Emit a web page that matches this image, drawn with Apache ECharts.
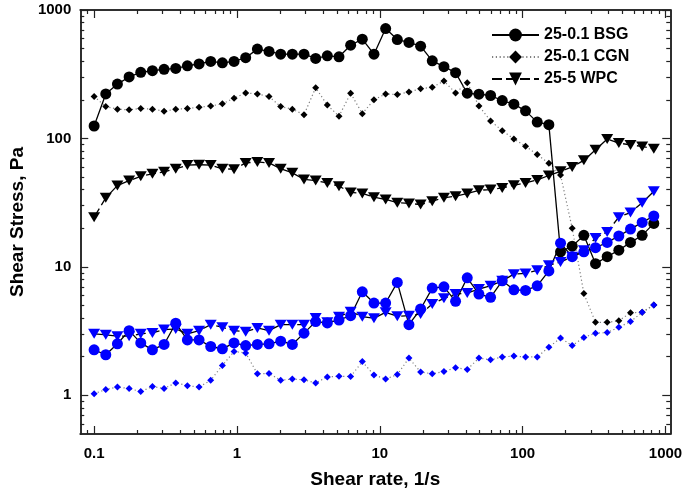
<!DOCTYPE html>
<html>
<head>
<meta charset="utf-8">
<script src="https://cdn.jsdelivr.net/npm/echarts@6/dist/echarts.min.js"></script>
<style>
html,body{margin:0;padding:0;background:#fff;}
#chart{width:685px;height:497px;}
</style>
</head>
<body>
<div id="chart"></div>
<script>
// Shear rate (1/s)
const shearRate = [0.1,0.1207,0.1456,0.1758,0.2121,0.2560,0.3089,0.3728,0.4498,0.5429,0.6551,0.7906,0.9541,1.151,1.390,1.677,2.024,2.442,2.947,3.557,4.292,5.180,6.251,7.543,9.103,10.99,13.26,16.00,19.31,23.30,28.12,33.93,40.95,49.42,59.64,71.97,86.85,104.8,126.5,152.6,184.2,222.3,268.3,323.8,390.7,471.5,569.0,686.7,828.6];

// Black series
const bsgBlack = [125,222,265,301,327,337,345,351,368,380,398,388,398,425,496,476,453,453,453,420,440,432,532,593,453,717,589,559,523,402,362,325,225,221,216,197,185,164,134,128,13.1,14.5,17.6,10.6,12.0,13.5,15.5,17.6,21.8];
const cgnBlack = [212,177,169,167,171,169,163,169,171,175,179,186,206,226,222,212,177,169,153,248,182,149,225,156,200,222,220,230,244,250,280,226,272,179,137,115,99,87,75,64,52,20,6.2,3.7,3.7,3.8,4.4,4.43,5.05];
const wpcBlack = [24.4,34.5,43,47,50.7,53,55,58,62,62.5,62,58,57.6,64.5,65.6,64.5,58,54,48,47,45,42.5,38,37.3,34.9,33.5,31.6,31.2,30.6,32.5,34.5,35.5,37.3,39.5,40,41.2,43.2,45,47.5,51.5,55.5,60,67.5,81.7,99,92,89,86.7,83];

// Blue series
const bsgBlue = [2.26,2.07,2.52,3.19,2.56,2.26,2.49,3.64,2.70,2.70,2.40,2.30,2.56,2.44,2.49,2.52,2.64,2.49,3.05,3.75,3.66,3.86,4.17,6.40,5.23,5.23,7.57,3.55,4.70,6.84,7.0,5.39,8.22,6.14,5.79,7.79,6.63,6.56,7.12,9.31,15.3,12.0,13.1,14.1,15.5,17.4,19.7,22.2,24.9];
const cgnBlue = [1.03,1.11,1.16,1.13,1.07,1.17,1.13,1.25,1.19,1.16,1.31,1.71,2.19,2.14,1.47,1.48,1.31,1.34,1.32,1.25,1.39,1.41,1.40,1.83,1.44,1.34,1.45,1.95,1.52,1.47,1.53,1.64,1.59,1.95,1.89,1.99,2.02,1.99,1.99,2.37,2.79,2.44,2.82,3.05,3.08,3.39,3.75,4.43,5.05];
const wpcBlue = [3.01,2.96,2.89,2.89,3.01,3.06,3.25,3.29,3.01,3.19,3.55,3.39,3.19,3.13,3.35,3.19,3.55,3.55,3.55,4.0,3.71,4.10,4.48,4.10,3.98,4.43,4.13,4.17,4.30,5.14,5.69,6.14,6.26,6.72,7.12,7.79,8.78,8.89,9.4,10.3,10.9,12.0,13.5,16.8,18.7,24.4,26.5,31.6,38.8];

// Ticks
const xMajor = [0.1,1,10,100,1000];
const xMinor = [0.09,0.2,0.3,0.4,0.5,0.6,0.7,0.8,0.9,2,3,4,5,6,7,8,9,20,30,40,50,60,70,80,90,200,300,400,500,600,700,800,900];
const yMajor = [1,10,100,1000];
const yMinor = [0.6,0.7,0.8,0.9,2,3,4,5,6,7,8,9,20,30,40,50,60,70,80,90,200,300,400,500,600,700,800,900];

const legendNames = ['25-0.1 BSG','25-0.1 CGN','25-5 WPC'];

const FONT = '"Liberation Sans", Arial, sans-serif';
const AX = '#222';
const fmt = v => String(+Number(v).toPrecision(3));

function pair(arr){ return shearRate.map((x,i)=>[x, arr[i]]); }

function mkAxis(isX, position, ticks, len, labels, extra){
  const base = {
    type:'log', logBase:10,
    min: isX ? 0.08 : 0.5,
    max: isX ? 1080 : 1000,
    position: position,
    axisLine:{show:true, onZero:false, lineStyle:{color:AX, width:1.5}},
    axisTick:{show:true, inside:true, length:len, customValues:ticks, lineStyle:{color:AX, width:1.2}},
    axisLabel: labels ? {show:true, customValues:ticks, formatter:fmt, fontFamily:FONT, fontWeight:'bold', fontSize:15, color:'#000', margin: isX ? 12 : 9} : {show:false},
    splitLine:{show:false},
    minorTick:{show:false},
    silent:true
  };
  return Object.assign(base, extra || {});
}

const xAxes = [
  mkAxis(true,'bottom',xMajor,8,true,{
    name:'Shear rate, 1/s', nameLocation:'middle', nameGap:36,
    nameTextStyle:{fontFamily:FONT, fontWeight:'bold', fontSize:19, color:'#000'}
  }),
  mkAxis(true,'bottom',xMinor,4,false),
  mkAxis(true,'top',xMajor,8,false),
  mkAxis(true,'top',xMinor,4,false)
];
const yAxes = [
  mkAxis(false,'left',yMajor,8,true,{
    name:'Shear Stress, Pa', nameLocation:'middle', nameGap:36,
    nameTextStyle:{fontFamily:FONT, fontWeight:'bold', fontSize:19, color:'#000'}
  }),
  mkAxis(false,'left',yMinor,4,false),
  mkAxis(false,'right',yMajor,8,false),
  mkAxis(false,'right',yMinor,4,false)
];

function circleSeries(name, data, color){
  return {name, type:'line', data:pair(data), symbol:'circle', symbolSize:11,
    itemStyle:{color:color}, lineStyle:{color:'#000', width:1.3, type:'solid'},
    emphasis:{disabled:true}, animation:false};
}
function diamondSeries(name, data, color){
  return {name, type:'line', data:pair(data), symbol:'diamond', symbolSize:7,
    itemStyle:{color:color}, lineStyle:{color:'#808080', width:1.2, type:[1.2,2.6]},
    emphasis:{disabled:true}, animation:false};
}
function triSeries(name, data, color){
  return {name, type:'line', data:pair(data), symbol:'triangle', symbolRotate:180, symbolSize:[12,10],
    itemStyle:{color:color}, lineStyle:{color:'#000', width:1.3, type:[10,4]},
    emphasis:{disabled:true}, animation:false};
}

const option = {
  backgroundColor:'#fff',
  animation:false,
  grid:{left:60, right:13, top:10, bottom:63, containLabel:false},
  xAxis:xAxes,
  yAxis:yAxes,
  legend:{
    data:legendNames, orient:'vertical', left:486, top:22,
    itemWidth:47, itemHeight:16, itemGap:6,
    textStyle:{fontFamily:FONT, fontWeight:'bold', fontSize:16, color:'#000', lineHeight:16},
    selectedMode:false
  },
  series:[
    circleSeries('25-0.1 BSG', bsgBlack, '#000'),
    diamondSeries('25-0.1 CGN', cgnBlack, '#000'),
    triSeries('25-5 WPC', wpcBlack, '#000'),
    circleSeries('BSG (blue)', bsgBlue, '#0000ff'),
    triSeries('WPC (blue)', wpcBlue, '#0000ff'),
    diamondSeries('CGN (blue)', cgnBlue, '#0000ff')
  ]
};

const chart = echarts.init(document.getElementById('chart'), null, {renderer:'canvas'});
chart.setOption(option);
</script>
</body>
</html>
